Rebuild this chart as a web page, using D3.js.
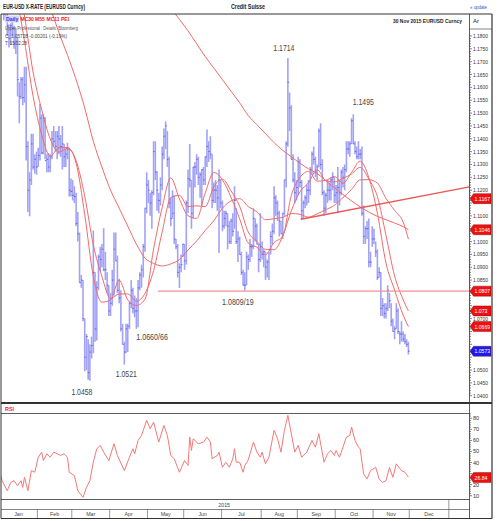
<!DOCTYPE html>
<html><head><meta charset="utf-8">
<script src="https://cdnjs.cloudflare.com/ajax/libs/d3/7.8.5/d3.min.js"></script>
<style>
body{margin:0;background:#fff}
svg{display:block}
text{font-family:"Liberation Sans",Arial,sans-serif}
</style></head>
<body><svg id="c" width="500" height="521"></svg>
<script>
// ---------------- DATA ----------------
// daily bars, one per weekday from 1 Jan 2015 (index 0) to 30 Nov 2015 (index 237)
const highs = [1.2100,1.2070,1.1970,1.1960,1.1900,1.1845,1.1850,1.1870,1.1840,1.1830,1.1795,1.1620,1.1640,1.1640,1.1680,1.1680,1.1390,1.1270,1.1420,1.1420,1.1340,1.1350,
1.1365,1.1535,1.1495,1.1495,1.1485,1.1340,1.1345,1.1340,1.1430,1.1450,1.1430,1.1430,1.1450,1.1415,1.1450,1.1380,1.1360,1.1385,1.1365,1.1245,
1.1240,1.1215,1.1190,1.1115,1.1035,1.0870,1.0850,1.0700,1.0640,1.0620,1.0600,1.0630,1.1043,1.0880,1.0845,1.0950,1.0980,1.0990,1.1052,1.0960,1.0880,1.0830,
1.0800,1.0890,1.1035,1.1035,1.0945,1.0855,1.0810,1.0680,1.0610,1.0680,1.0680,1.0765,1.0850,1.0820,1.0790,1.0780,1.0850,1.0880,1.0910,1.0990,1.1130,1.1270,
1.1240,1.1190,1.1200,1.1390,1.1390,1.1275,1.1190,1.1250,1.1370,1.1440,1.1467,1.1430,1.1330,1.1170,1.1200,1.1180,1.1010,1.0990,1.0915,1.0950,1.0990,
1.0990,1.1160,1.1280,1.1380,1.1240,1.1290,1.1310,1.1340,1.1330,1.1270,1.1280,1.1290,1.1330,1.1436,1.1390,1.1410,1.1340,1.1230,1.1240,1.1220,1.1280,1.1240,
1.1160,1.1120,1.1120,1.1110,1.1080,1.1090,1.1110,1.1215,1.1130,1.1040,1.1020,1.0960,1.0890,1.0880,1.0960,1.0950,1.1010,1.0990,1.1130,1.1090,1.1070,1.0990,1.1110,
1.1000,1.0970,1.0960,1.0930,1.0960,1.1040,1.1070,1.1215,1.1180,1.1160,1.1120,1.1080,1.1110,1.1240,1.1390,1.1714,1.1580,1.1530,1.1340,1.1270,1.1240,
1.1330,1.1320,1.1240,1.1160,1.1180,1.1220,1.1240,1.1290,1.1350,1.1370,1.1330,1.1300,1.1440,1.1460,1.1320,1.1200,1.1190,1.1240,1.1230,1.1250,1.1270,1.1250,
1.1220,1.1290,1.1240,1.1280,1.1290,1.1300,1.1390,1.1390,1.1390,1.1480,1.1495,1.1390,1.1370,1.1390,1.1360,1.1370,1.1140,1.1060,1.1080,1.1090,1.0960,1.1060,
1.1050,1.1000,1.0970,1.0900,1.0880,1.0780,1.0760,1.0760,1.0830,1.0800,1.0760,1.0700,1.0670,1.0760,1.0740,1.0650,1.0690,1.0650,1.0640,1.0620,1.0610];
const lows = [1.2040,1.1995,1.1860,1.1870,1.1800,1.1755,1.1765,1.1800,1.1750,1.1730,1.1565,1.1460,1.1555,1.1530,1.1540,1.1315,1.1115,1.1098,1.1220,1.1280,1.1265,1.1260,
1.1290,1.1315,1.1340,1.1340,1.1320,1.1270,1.1270,1.1270,1.1320,1.1370,1.1350,1.1320,1.1340,1.1330,1.1280,1.1290,1.1290,1.1320,1.1175,1.1175,
1.1160,1.1150,1.1060,1.1000,1.0840,1.0820,1.0690,1.0495,1.0500,1.0462,1.0458,1.0545,1.0565,1.0610,1.0615,1.0810,1.0885,1.0900,1.0885,1.0850,1.0800,1.0710,
1.0710,1.0750,1.0790,1.0925,1.0800,1.0760,1.0650,1.0600,1.0521,1.0565,1.0570,1.0660,1.0740,1.0720,1.0705,1.0660,1.0666,1.0810,1.0820,1.0860,1.0960,1.1110,
1.1150,1.1100,1.1050,1.1180,1.1240,1.1120,1.1110,1.1140,1.1200,1.1320,1.1360,1.1290,1.1130,1.1060,1.1090,1.0990,1.0970,1.0860,1.0819,1.0880,1.0940,
1.0890,1.0910,1.1110,1.1210,1.1050,1.1090,1.1210,1.1260,1.1220,1.1170,1.1140,1.1220,1.1220,1.1290,1.1310,1.1320,1.1130,1.1150,1.1150,1.1120,1.0955,1.1130,
1.1040,1.1050,1.1060,1.0970,1.0990,1.0990,1.1020,1.1050,1.0990,1.0920,1.0950,1.0870,1.0830,1.0809,1.0830,1.0890,1.0920,1.0940,1.0970,1.1000,1.0990,1.0880,1.0920,
1.0930,1.0900,1.0850,1.0860,1.0850,1.0950,1.0990,1.1030,1.1100,1.1080,1.1020,1.1030,1.1010,1.1100,1.1210,1.1370,1.1430,1.1320,1.1230,1.1150,1.1160,
1.1180,1.1210,1.1087,1.1090,1.1130,1.1140,1.1150,1.1180,1.1260,1.1300,1.1250,1.1240,1.1290,1.1280,1.1180,1.1100,1.1110,1.1150,1.1160,1.1160,1.1200,1.1150,
1.1150,1.1110,1.1140,1.1180,1.1210,1.1200,1.1270,1.1340,1.1330,1.1380,1.1380,1.1340,1.1320,1.1320,1.1320,1.1100,1.0990,1.0990,1.1010,1.0900,1.0900,1.0980,
1.0990,1.0940,1.0850,1.0860,1.0710,1.0710,1.0700,1.0700,1.0730,1.0740,1.0670,1.0650,1.0620,1.0660,1.0640,1.0600,1.0610,1.0610,1.0600,1.0590,1.0560];
const closes = [1.2045,1.2000,1.1935,1.1890,1.1840,1.1790,1.1840,1.1830,1.1770,1.1780,1.1630,1.1565,1.1630,1.1560,1.1610,1.1370,1.1200,1.1240,1.1380,1.1290,1.1320,1.1290,
1.1335,1.1480,1.1345,1.1480,1.1315,1.1320,1.1290,1.1330,1.1400,1.1390,1.1370,1.1410,1.1400,1.1370,1.1380,1.1330,1.1340,1.1360,1.1200,1.1195,
1.1180,1.1175,1.1070,1.1030,1.0840,1.0850,1.0700,1.0550,1.0630,1.0490,1.0570,1.0595,1.0880,1.0660,1.0820,1.0940,1.0930,1.0970,1.0890,1.0890,1.0830,1.0730,
1.0760,1.0850,1.0970,1.0925,1.0810,1.0780,1.0660,1.0600,1.0570,1.0660,1.0670,1.0760,1.0810,1.0740,1.0730,1.0730,1.0820,1.0870,1.0890,1.0980,1.1130,1.1220,
1.1200,1.1150,1.1190,1.1350,1.1270,1.1200,1.1160,1.1220,1.1340,1.1410,1.1450,1.1320,1.1150,1.1090,1.1110,1.1010,1.0980,1.0880,1.0900,1.0910,1.0990,
1.0925,1.1150,1.1245,1.1240,1.1110,1.1290,1.1290,1.1320,1.1250,1.1260,1.1280,1.1240,1.1330,1.1370,1.1350,1.1340,1.1160,1.1200,1.1200,1.1170,1.1240,1.1150,
1.1060,1.1090,1.1110,1.1060,1.1000,1.1080,1.1040,1.1160,1.1000,1.1010,1.0950,1.0880,1.0830,1.0830,1.0940,1.0930,1.0980,1.0980,1.1090,1.1060,1.0990,1.0930,1.0980,
1.0950,1.0960,1.0900,1.0920,1.0970,1.1020,1.1040,1.1170,1.1150,1.1110,1.1080,1.1030,1.1110,1.1240,1.1380,1.1620,1.1520,1.1320,1.1240,1.1190,1.1210,
1.1310,1.1230,1.1120,1.1150,1.1170,1.1200,1.1200,1.1280,1.1340,1.1320,1.1270,1.1290,1.1430,1.1300,1.1190,1.1130,1.1180,1.1200,1.1200,1.1240,1.1250,1.1180,
1.1190,1.1210,1.1190,1.1270,1.1250,1.1280,1.1360,1.1360,1.1380,1.1470,1.1380,1.1350,1.1330,1.1340,1.1340,1.1110,1.1020,1.1050,1.1050,1.0920,1.0920,1.1010,
1.1010,1.0960,1.0860,1.0880,1.0740,1.0750,1.0720,1.0740,1.0810,1.0770,1.0690,1.0650,1.0660,1.0730,1.0650,1.0640,1.0640,1.0620,1.0610,1.0600,1.0573];

// moving averages, read every 5th trading day
const maDay = [4,9,14,19,24,29,34,39,44,49,54,59,64,69,74,79,84,89,94,99,104,109,114,119,124,129,134,139,144,149,154,159,164,169,174,179,184,189,194,199,204,209,214,219,224,229,234,237];
const maFast = [1.2137,1.1971,1.1781,1.1566,1.1416,1.1332,1.1365,1.1366,1.1305,1.1105,1.0864,1.0764,1.0772,1.0850,1.0773,1.0751,1.0775,1.0971,1.1133,1.1248,1.1166,1.1101,1.1090,1.1189,1.1269,1.1240,1.1172,1.1088,1.0994,1.0978,1.0949,1.0996,1.1021,1.1179,1.1249,1.1273,1.1235,1.1238,1.1253,1.1227,1.1269,1.1313,1.1249,1.1110,1.0916,1.0811,1.0713,1.0669];
const maMid = [1.2208,1.2054,1.1878,1.1660,1.1513,1.1399,1.1348,1.1363,1.1315,1.1177,1.0987,1.0864,1.0778,1.0796,1.0796,1.0768,1.0798,1.0887,1.1038,1.1171,1.1180,1.1136,1.1139,1.1136,1.1213,1.1243,1.1197,1.1137,1.1037,1.1001,1.0970,1.0968,1.1021,1.1120,1.1193,1.1229,1.1280,1.1238,1.1232,1.1246,1.1263,1.1289,1.1243,1.1175,1.1024,1.0866,1.0773,1.0730];
const maSlow = [1.2373,1.2305,1.2223,1.2114,1.2011,1.1910,1.1814,1.1725,1.1630,1.1520,1.1390,1.1290,1.1200,1.1130,1.1060,1.0990,1.0936,1.0915,1.0905,1.0913,1.0930,1.0967,1.1002,1.1043,1.1081,1.1130,1.1158,1.1167,1.1136,1.1116,1.1085,1.1089,1.1094,1.1109,1.1106,1.1095,1.1108,1.1124,1.1141,1.1171,1.1203,1.1240,1.1241,1.1227,1.1168,1.1121,1.1075,1.1010];
const ma200Day = [79,84,89,94,99,104,109,114,119,124,129,134,139,144,149,154,159,164,169,174,179,184,189,194,199,204,209,214,219,224,229,234,237];
const ma200 = [1.2150,1.2100,1.2040,1.1970,1.1910,1.1865,1.1820,1.1770,1.1720,1.1675,1.1630,1.1585,1.1540,1.1490,1.1455,1.1420,1.1385,1.1355,1.1330,1.1305,1.1283,1.1265,1.1237,1.1210,1.1183,1.1158,1.1135,1.1115,1.1098,1.1085,1.1072,1.1058,1.1046];

// drawn lines: horizontal support and rising trendline (day, value)
const supportLine = [[92,1.0807],[273,1.0807]];
const trendLine = [[175,1.1087],[273,1.1213]];

// price annotations
const noteText = ["1.1714","1.1495","1.0809/19","1.0660/66","1.0521","1.0458"];
const noteDay  = [167,205,142,80,72,52];
const noteVal  = [1.1714,1.1495,1.0809,1.0666,1.0521,1.0458];

// right-axis value tags
const tagText = ["1.1167","1.1046","1.0807","1.073","1.0669","1.0573"];
const tagVal  = [1.1167,1.1046,1.0807,1.0730,1.0669,1.0573];
const tagBlue = [false,false,false,false,false,true];

// RSI (trading day, value)
const rsiDay = [0,1,4,6,8,10,12,13,14,16,18,20,22,24,25,27,29,31,33,35,37,39,40,43,45,48,50,52,54,56,58,60,63,66,68,72,75,77,78,80,82,85,87,89,92,95,97,99,101,104,107,109,110,111,112,115,118,120,122,123,126,127,129,131,133,135,136,137,139,141,142,144,147,149,151,152,154,156,159,161,163,165,167,169,171,173,175,178,181,183,185,188,190,192,194,195,197,199,201,203,204,206,208,209,211,213,215,218,220,222,224,226,228,230,233,235,237];
const rsiVal = [29.7,23.6,14.5,22,23.6,19,23.6,17.5,26.6,14.5,32.7,31.2,44.8,49.4,41.8,47.9,44.8,49.4,47.9,46.4,47.9,44.8,31.2,28.2,14.5,8.5,17.5,23.6,40.3,52.5,55.5,49.4,41.8,57,46.4,32.7,44.8,52.5,47.9,60,64.5,78.2,70.6,76.6,58.5,73.6,64.5,46.4,43.4,31.2,41.8,37.3,63,50.9,61.5,57,58.5,63,58.5,43.4,46.4,49.4,35.7,40.3,35.7,43.4,52.5,40.3,40.3,31.2,37.3,42.5,58.5,49.4,44.8,49.4,38.8,44.8,69.1,61.5,49.4,69.1,82.7,66,49.4,55.5,44.8,49.4,60,53.9,66,40.3,47.9,50.9,46.4,50.9,44.8,53.9,63,64.5,72.1,60,53.9,52.5,29.7,25.2,32.7,35.7,25.2,22,23.6,35.7,26.6,38.8,32.7,31.2,26.8];
const rsiTicks = [80,70,60,50,40,30,20,10];
const rsiTag = "26.84";
const rsiTagVal = 26.4;

const monthNames = ["Jan","Feb","Mar","Apr","May","Jun","Jul","Aug","Sep","Oct","Nov","Dec"];

// ---------------- LAYOUT ----------------
const svg = d3.select("#c");
const divX = 469.5, rightB = 492, leftB = 1;
const x  = d3.scaleLinear().domain([0,273]).range([-0.5,469.5]);
const y  = d3.scaleLinear().domain([1.04,1.18]).range([395.7,36]);
const yr = d3.scaleLinear().domain([10,80]).range([495.7,418.3]);
const red = "#f26a6a";

function txt(xx,yy,s,size,len,opts={}){
  const t = svg.append("text").attr("x",xx).attr("y",yy).attr("font-size",size).text(s)
    .attr("fill",opts.fill||"#222");
  if(opts.bold) t.attr("font-weight","bold");
  if(len) t.attr("textLength",len).attr("lengthAdjust","spacingAndGlyphs");
  return t;
}

svg.append("rect").attr("width",500).attr("height",521).attr("fill","#fff");
const defs = svg.append("defs");
defs.append("clipPath").attr("id","cp").append("rect").attr("x",leftB).attr("y",14).attr("width",divX-leftB).attr("height",388);
defs.append("clipPath").attr("id","cr").append("rect").attr("x",leftB).attr("y",414).attr("width",divX-leftB).attr("height",85);

// title row
txt(3,9,"EUR-USD X-RATE (EURUSD Curncy)",6.5,82,{bold:true});
txt(231,9,"Credit Suisse",6.5,34,{bold:true});
txt(470,9,"« update",5,17,{fill:"#3355dd"});

// price panel content
const gp = svg.append("g").attr("clip-path","url(#cp)");
const days = d3.range(closes.length);
gp.selectAll("line.bar").data(days).join("line")
  .attr("x1",i=>x(i+0.5)).attr("x2",i=>x(i+0.5))
  .attr("y1",i=>y(highs[i])).attr("y2",i=>y(lows[i]))
  .attr("stroke","#a2a2f6").attr("stroke-width",1.6);
gp.selectAll("line.cl").data(days).join("line")
  .attr("x1",i=>x(i+0.5)-0.3).attr("x2",i=>x(i+0.5)+1.3)
  .attr("y1",i=>y(closes[i])).attr("y2",i=>y(closes[i]))
  .attr("stroke","#5050dc").attr("stroke-width",0.8);

const maLine = d3.line().x(d=>x(d[0]+0.5)).y(d=>y(d[1])).curve(d3.curveMonotoneX);
[[maDay,maFast],[maDay,maMid],[maDay,maSlow],[ma200Day,ma200]].forEach(([dd,vv])=>{
  gp.append("path").attr("d",maLine(d3.zip(dd,vv))).attr("fill","none").attr("stroke",red).attr("stroke-width",1);
});
const straight = d3.line().x(d=>x(d[0])).y(d=>y(d[1]));
gp.append("path").attr("d",straight(supportLine)).attr("stroke","#f39090").attr("stroke-width",1.2).attr("fill","none");
gp.append("path").attr("d",straight(trendLine)).attr("stroke","#ee5555").attr("stroke-width",1.4).attr("fill","none");

const noteDx = [-4,10,-7,14,2,-8], noteDy = [-7,-9,14,13,12.5,14];
noteText.forEach((t,k)=>{
  gp.append("text").attr("x",x(noteDay[k]+0.5)+noteDx[k]).attr("y",y(noteVal[k])+noteDy[k])
    .attr("text-anchor","middle").attr("font-size",9).attr("fill","#444")
    .attr("textLength",t.length*3.5).attr("lengthAdjust","spacingAndGlyphs").text(t);
});

// header/legend over chart
txt(393,23,"30 Nov 2015 EURUSD Curncy",5.8,69,{bold:true});
txt(473,23,"Ar",5.8,6);
svg.append("rect").attr("x",5).attr("y",15.5).attr("width",14).attr("height",7).attr("fill","#d4d8f6");
txt(6,21,"Daily",5.2,null,{bold:true,fill:"#2233ee"});
const legTxt = ["MC30","M55","MC11","PEI"], legX = [20.5,35,46.5,61];
legTxt.forEach((t,k)=>txt(legX[k],21,t,5,null,{bold:true,fill:"#ee2222"}));
txt(5,30,"Upper Professional : Details: Bloomberg",5,73,{fill:"#555"});
txt(5,37.5,"C: 1.05728  -0.00201 (-0.19%)",5.5,62,{fill:"#444"});
txt(5,45,"T: 15:02:28",5.5,22,{fill:"#444"});

// right price axis
const tagYs = tagVal.map(v=>y(v));
const minor = d3.range(0,141).map(k=>+(1.04+k*0.001).toFixed(3));
svg.selectAll("line.mt").data(minor).join("line")
  .attr("x1",divX).attr("x2",(d,k)=>divX+(k%5===0?2.5:1.5))
  .attr("y1",d=>y(d)).attr("y2",d=>y(d)).attr("stroke","#333").attr("stroke-width",0.6);
const major = minor.filter((d,k)=>k%5===0).filter(d=>tagYs.every(ty=>Math.abs(y(d)-ty)>7));
svg.selectAll("text.pt").data(major).join("text")
  .attr("x",473).attr("y",d=>y(d)+2).attr("font-size",5.6).attr("fill","#333")
  .attr("textLength",15).attr("lengthAdjust","spacingAndGlyphs").text(d3.format(".4f"));

// tags
function tag(yy,label,fill){
  const g = svg.append("g");
  g.append("path").attr("d",`M${divX+0.5},${yy} L${divX+4},${yy-5} L${rightB-1},${yy-5} L${rightB-1},${yy+5} L${divX+4},${yy+5} Z`)
   .attr("fill",fill).attr("stroke","#600").attr("stroke-width",0.4);
  g.append("text").attr("x",divX+5).attr("y",yy+2.2).attr("font-size",6).attr("fill","#fff")
   .attr("textLength",label.length*2.6).attr("lengthAdjust","spacingAndGlyphs").text(label);
}
tagText.forEach((t,k)=>tag(tagYs[k],t,tagBlue[k]?"#1c1cf0":"#ee1111"));

// RSI panel
const gr = svg.append("g").attr("clip-path","url(#cr)");
const rsiLine = d3.line().x(d=>x(d[0]+0.5)).y(d=>yr(d[1]));
gr.append("path").attr("d",rsiLine(d3.zip(rsiDay,rsiVal))).attr("fill","none").attr("stroke","#f47878").attr("stroke-width",1);
txt(5,410.5,"RSI",6,9,{bold:true,fill:"#ee2222"});
const rMinor = d3.range(10,85,2);
svg.selectAll("line.rt").data(rMinor).join("line")
  .attr("x1",divX).attr("x2",d=>divX+(d%10===0?2.5:1.5))
  .attr("y1",d=>yr(d)).attr("y2",d=>yr(d)).attr("stroke","#333").attr("stroke-width",0.6);
svg.selectAll("text.rl").data(rsiTicks.filter(d=>Math.abs(yr(d)-yr(rsiTagVal))>7)).join("text")
  .attr("x",473).attr("y",d=>yr(d)+2).attr("font-size",5.6).attr("fill","#333").text(d=>d);
tag(yr(rsiTagVal),rsiTag,"#ee1111");

// time axis rows
const wd = d3.timeDay.range(new Date(2015,0,1), new Date(2016,0,1)).filter(d=>d.getDay()%6!==0);
const mStart = monthNames.map((m,k)=>wd.findIndex(d=>d.getMonth()===k));
const mEnd = mStart.slice(1).concat([wd.length]);
svg.selectAll("text.mo").data(monthNames).join("text")
  .attr("x",(d,k)=>x((mStart[k]+mEnd[k])/2)).attr("y",516).attr("text-anchor","middle")
  .attr("font-size",5.3).attr("fill","#444").text(d=>d);
svg.selectAll("line.ms").data(mEnd).join("line")
  .attr("x1",d=>x(d)).attr("x2",d=>x(d)).attr("y1",509.5).attr("y2",518).attr("stroke","#555").attr("stroke-width",0.6);
svg.append("line").attr("x1",x(wd.length)).attr("x2",x(wd.length)).attr("y1",499.5).attr("y2",509.5).attr("stroke","#555").attr("stroke-width",0.6);
svg.append("text").attr("x",x(wd.length/2)).attr("y",506.5).attr("text-anchor","middle").attr("font-size",5.3).attr("fill","#444").text("2015");

// frame lines
const fr = svg.append("g").attr("stroke","#333").attr("fill","none");
fr.append("line").attr("x1",leftB).attr("x2",rightB).attr("y1",14).attr("y2",14).attr("stroke-width",1.2);
fr.append("line").attr("x1",divX).attr("x2",rightB).attr("y1",29).attr("y2",29).attr("stroke-width",0.6);
fr.append("line").attr("x1",leftB).attr("x2",rightB).attr("y1",403).attr("y2",403).attr("stroke-width",2);
fr.append("line").attr("x1",leftB).attr("x2",divX).attr("y1",413.5).attr("y2",413.5).attr("stroke-width",0.8);
fr.append("line").attr("x1",leftB).attr("x2",divX).attr("y1",499.5).attr("y2",499.5).attr("stroke-width",0.8);
fr.append("line").attr("x1",leftB).attr("x2",divX).attr("y1",509.5).attr("y2",509.5).attr("stroke-width",0.6);
fr.append("line").attr("x1",leftB).attr("x2",rightB).attr("y1",518.5).attr("y2",518.5).attr("stroke-width",1.2);
fr.append("line").attr("x1",leftB).attr("x2",leftB).attr("y1",14).attr("y2",518.5).attr("stroke-width",1);
fr.append("line").attr("x1",divX).attr("x2",divX).attr("y1",14).attr("y2",518.5).attr("stroke-width",0.8);
fr.append("line").attr("x1",rightB).attr("x2",rightB).attr("y1",14).attr("y2",518.5).attr("stroke-width",1.2);
</script>
</body></html>
